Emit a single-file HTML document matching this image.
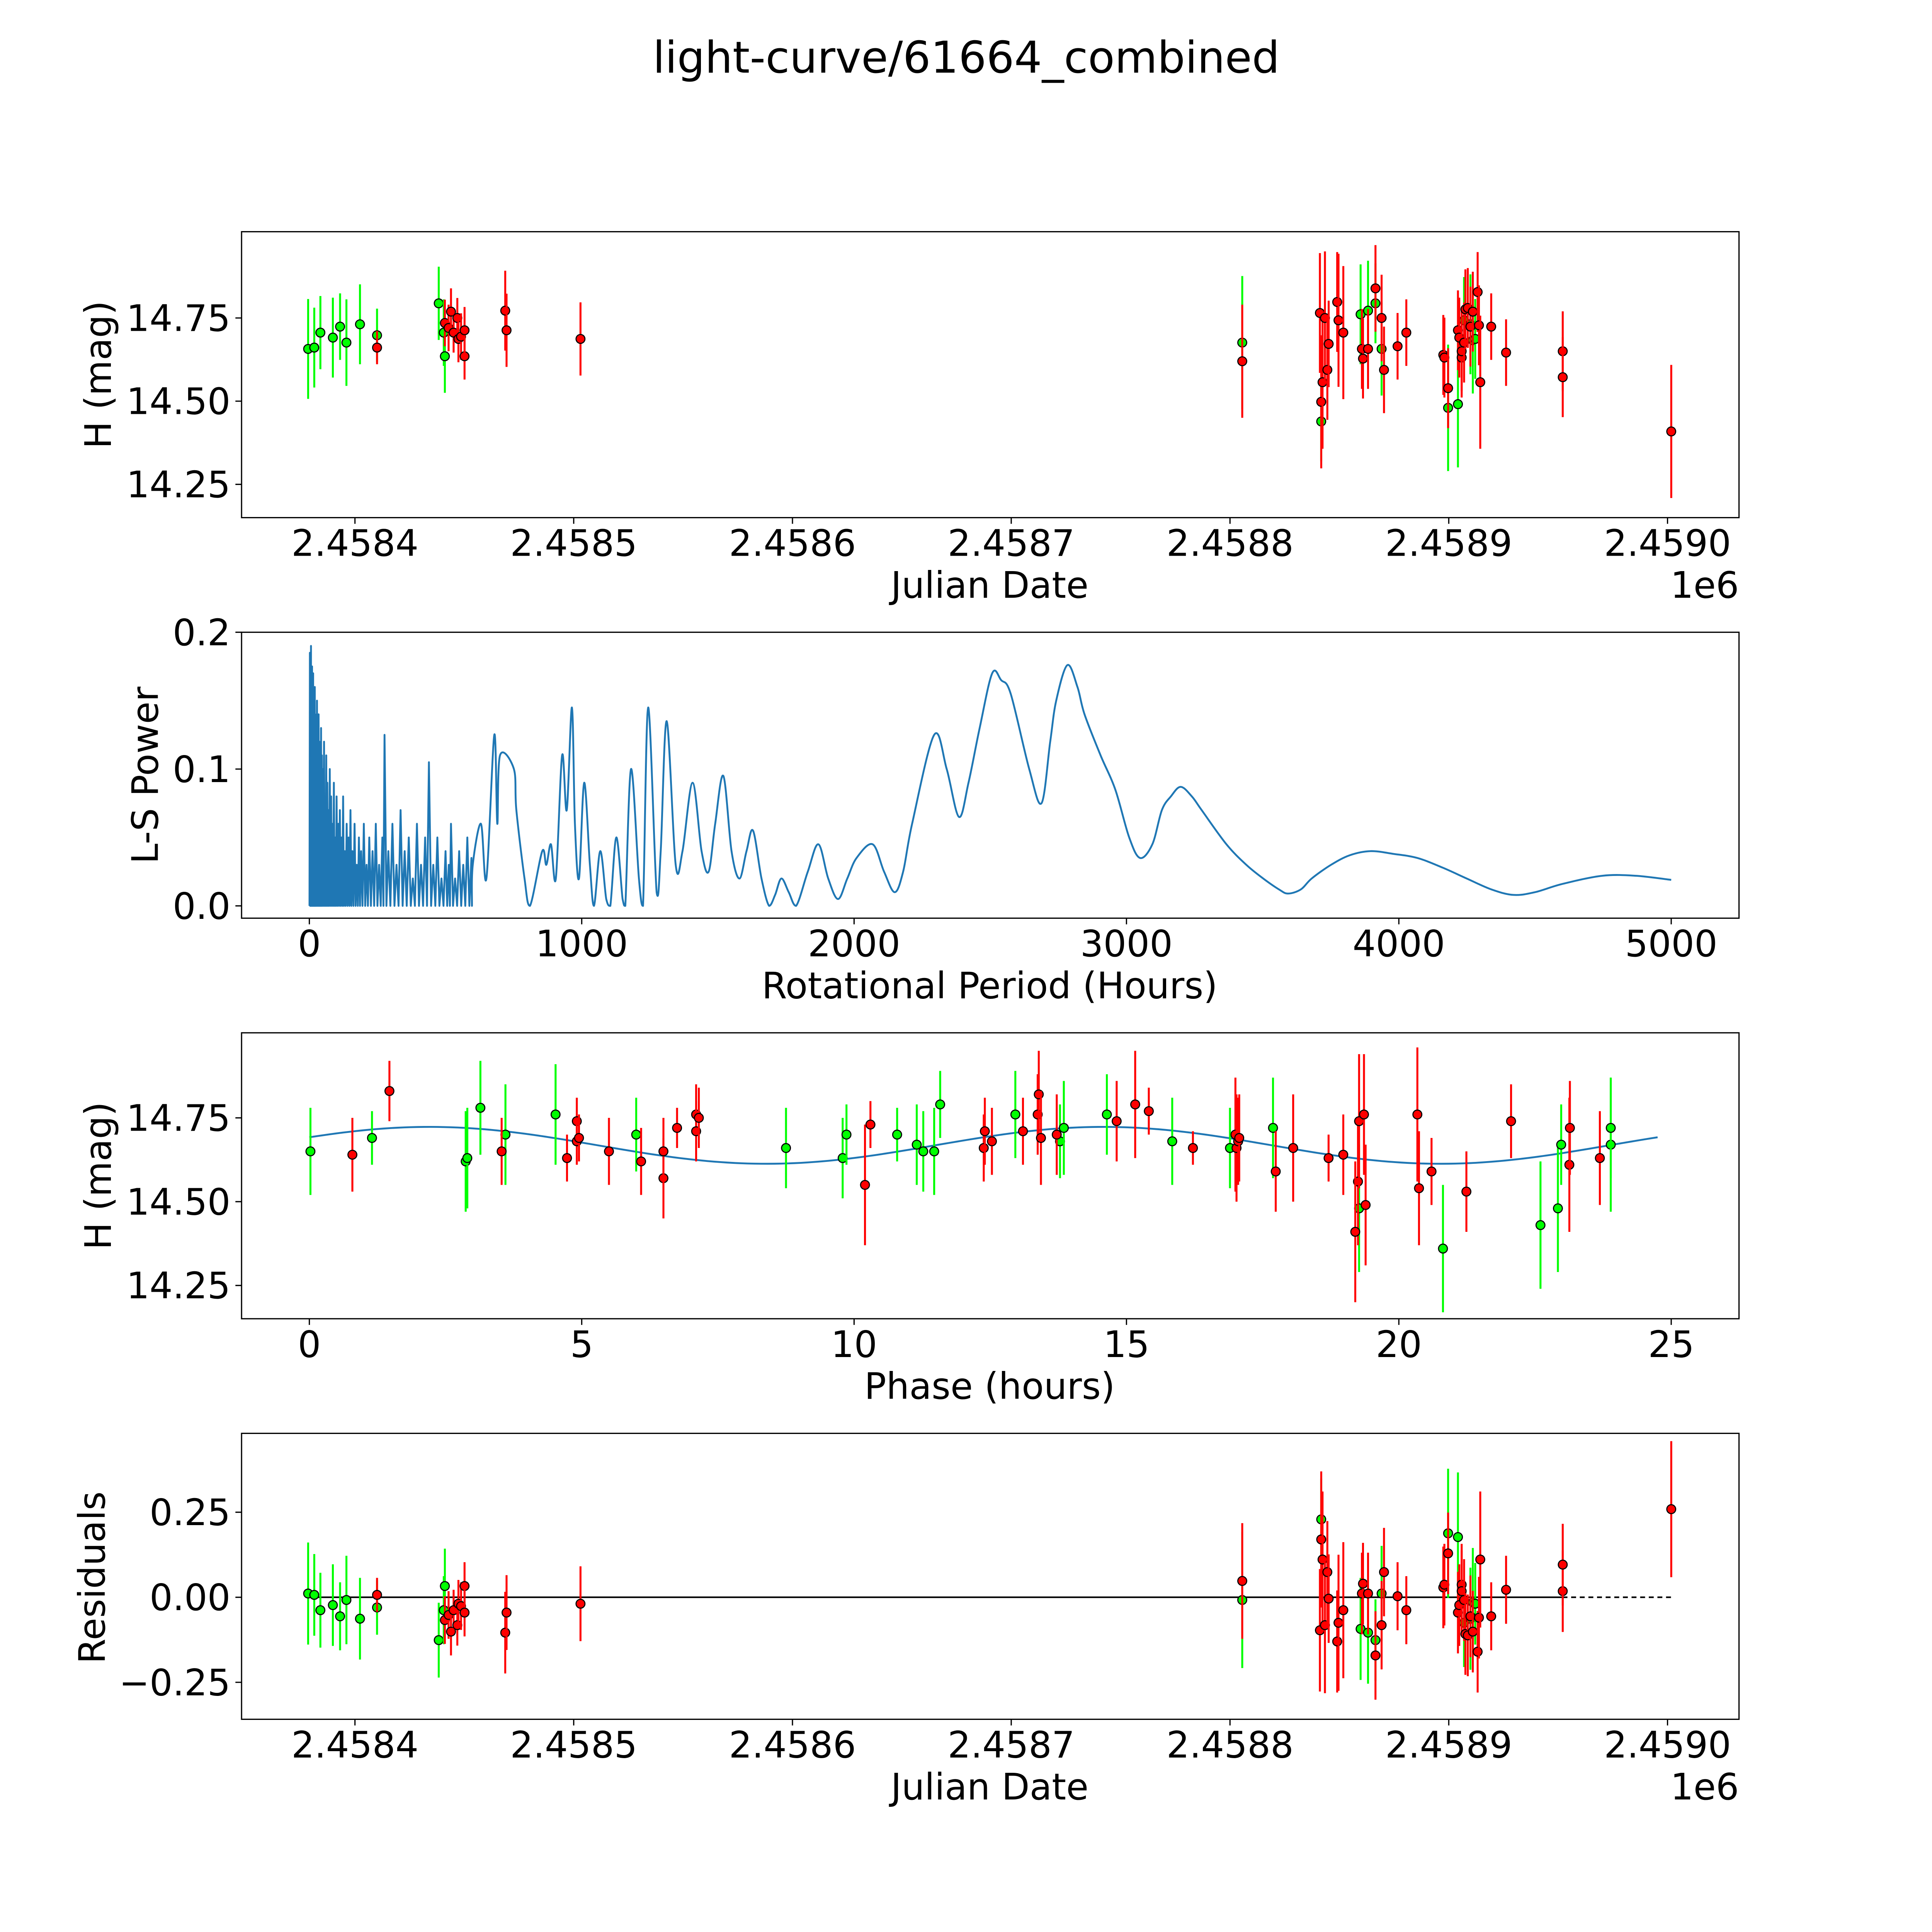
<!DOCTYPE html>
<html><head><meta charset="utf-8"><style>
html,body{margin:0;padding:0;background:#fff;width:5400px;height:5400px;overflow:hidden;}
svg{display:block;width:5400px;height:5400px;}
text{font-family:"DejaVu Sans","Liberation Sans",sans-serif;fill:#000;}
</style></head><body>
<svg id="fig" xmlns="http://www.w3.org/2000/svg" width="5400" height="5400" viewBox="0 0 1693 1693" preserveAspectRatio="xMinYMin meet">
<rect width="1693" height="1693" fill="#fff"/>
<text x="784" y="59" font-size="35.5" text-anchor="middle">light-curve/61664_combined</text>
<g id="g"></g>
</svg>
<script>
// ---- data: light curve (days since JD 2458400) ----
const greenT=[-21.4,-18.6,-15.8,-10.1,-6.8,-3.9,2.3,10.1,38.3,40.6,41.1,405.6,441.7,459.7,463.1,466.5,469.3,499.7,504.2,507.0,509.9,511.0,512.1];
const greenH=[14.657,14.661,14.706,14.691,14.724,14.676,14.731,14.698,14.794,14.706,14.635,14.676,14.439,14.761,14.772,14.794,14.657,14.480,14.491,14.743,14.731,14.683,14.687];
const greenE=[0.15,0.12,0.11,0.12,0.10,0.13,0.12,0.08,0.11,0.10,0.11,0.20,0.12,0.15,0.15,0.12,0.14,0.19,0.19,0.13,0.15,0.16,0.12];
const redT=[10.1,41.1,42.8,43.9,45.1,46.8,47.3,48.5,50.1,50.1,68.7,69.3,103.1,405.6,441.1,441.7,442.3,443.4,444.5,445.1,449.0,449.6,451.8,460.3,460.8,463.1,466.5,469.3,470.4,476.6,480.6,497.5,498.0,499.7,504.2,504.8,505.9,505.9,507.0,507.6,508.7,509.9,511.0,513.2,513.8,514.4,519.4,526.2,552.1,552.1,601.7];
const redH=[14.661,14.735,14.720,14.769,14.706,14.750,14.687,14.694,14.635,14.713,14.772,14.713,14.687,14.620,14.765,14.498,14.557,14.750,14.594,14.672,14.798,14.743,14.706,14.657,14.628,14.657,14.839,14.750,14.594,14.665,14.706,14.639,14.631,14.539,14.713,14.691,14.631,14.650,14.676,14.776,14.780,14.724,14.769,14.828,14.728,14.557,14.724,14.646,14.650,14.572,14.409];
const redE=[0.05,0.07,0.07,0.07,0.06,0.06,0.07,0.07,0.07,0.07,0.12,0.11,0.11,0.17,0.18,0.20,0.20,0.20,0.15,0.13,0.15,0.20,0.20,0.12,0.12,0.12,0.13,0.13,0.13,0.10,0.10,0.12,0.12,0.12,0.12,0.12,0.12,0.12,0.12,0.12,0.12,0.12,0.12,0.12,0.12,0.20,0.10,0.10,0.12,0.12,0.20];
const residBase=14.668;
// ---- data: periodogram ----
const noisePer=[2,4,6,8,10,12,14,16,18,20,22,25,28,31,34,37,40,43,46,50,54,58,62,66,70,75,80,85,90,95,100,106,112,118,124,130,137,144,151,158,166,174,182,190,200,210,220,232,244,256,268,276,290,305,320,335,350,365,380,395,410,425,439,455,470,485,500,512,520,535,550,565,580,595];
const noisePow=[0.185,0.12,0.19,0.16,0.175,0.13,0.17,0.15,0.11,0.16,0.14,0.13,0.15,0.10,0.14,0.12,0.09,0.13,0.11,0.10,0.12,0.08,0.11,0.09,0.07,0.10,0.08,0.06,0.09,0.05,0.08,0.06,0.07,0.05,0.08,0.04,0.06,0.05,0.07,0.04,0.06,0.03,0.05,0.04,0.06,0.03,0.05,0.04,0.06,0.03,0.05,0.125,0.04,0.06,0.03,0.07,0.04,0.05,0.02,0.06,0.03,0.05,0.105,0.03,0.05,0.02,0.04,0.03,0.06,0.02,0.04,0.03,0.05,0.035];
const smoothPer=[600,630,650,679,690,700,751,760,790,810,855,870,887,905,928,945,964,975,990,1009,1030,1045,1068,1090,1105,1127,1150,1160,1181,1210,1225,1244,1275,1290,1312,1345,1370,1407,1440,1466,1490,1520,1550,1579,1605,1629,1660,1688,1710,1733,1760,1787,1830,1869,1905,1941,1975,2009,2068,2110,2149,2180,2213,2294,2340,2385,2420,2461,2507,2540,2575,2643,2688,2720,2742,2783,2820,2846,2905,2959,3010,3050,3095,3130,3163,3199,3240,3276,3367,3440,3502,3560,3593,3640,3680,3751,3820,3896,3980,4068,4160,4249,4340,4421,4500,4600,4747,4870,5000];
const smoothPow=[0.03,0.06,0.02,0.125,0.06,0.11,0.10,0.07,0.02,0.0,0.04,0.03,0.045,0.02,0.11,0.07,0.145,0.06,0.02,0.09,0.03,0.0,0.04,0.005,0.0,0.05,0.005,0.0,0.10,0.02,0.0,0.145,0.01,0.04,0.135,0.03,0.04,0.09,0.04,0.025,0.06,0.095,0.04,0.02,0.04,0.055,0.02,0.0,0.008,0.02,0.01,0.0,0.025,0.045,0.02,0.005,0.02,0.035,0.045,0.025,0.01,0.025,0.06,0.125,0.10,0.065,0.09,0.13,0.17,0.165,0.155,0.10,0.075,0.12,0.15,0.176,0.16,0.14,0.11,0.085,0.05,0.035,0.045,0.07,0.08,0.087,0.08,0.07,0.045,0.03,0.02,0.012,0.009,0.012,0.02,0.03,0.037,0.04,0.038,0.035,0.028,0.02,0.012,0.008,0.01,0.016,0.022,0.022,0.019];
// ---- data: folded light curve ----
const phaseG=[0.02,1.15,2.87,2.9,3.14,3.6,4.52,6.0,8.75,9.79,9.86,10.79,11.15,11.27,11.47,11.58,12.96,13.78,13.85,14.64,15.84,16.9,17.69,19.27,20.81,22.6,22.92,22.98,23.89,23.89];
const phaseGH=[14.65,14.69,14.62,14.63,14.78,14.70,14.76,14.70,14.66,14.63,14.70,14.70,14.67,14.65,14.65,14.79,14.76,14.68,14.72,14.76,14.68,14.66,14.72,14.48,14.36,14.43,14.48,14.67,14.67,14.72];
const phaseGE=[0.13,0.08,0.15,0.15,0.14,0.15,0.15,0.11,0.12,0.12,0.09,0.08,0.12,0.12,0.13,0.10,0.13,0.11,0.14,0.12,0.13,0.12,0.15,0.19,0.19,0.19,0.19,0.12,0.20,0.15];
const phaseR=[0.79,1.47,3.53,4.73,4.91,4.91,4.95,5.5,6.09,6.5,6.5,6.75,7.1,7.1,7.15,10.2,10.3,12.38,12.4,12.53,13.1,13.37,13.39,13.43,13.72,14.82,15.16,15.41,16.22,17.0,17.02,17.05,17.07,17.74,18.06,18.71,18.98,19.25,19.27,19.2,19.39,19.36,20.34,20.37,20.6,21.24,22.06,23.13,23.69,23.14];
const phaseRH=[14.64,14.83,14.65,14.63,14.74,14.68,14.69,14.65,14.62,14.57,14.65,14.72,14.76,14.71,14.75,14.55,14.73,14.66,14.71,14.68,14.71,14.76,14.82,14.69,14.70,14.74,14.79,14.77,14.66,14.70,14.66,14.68,14.69,14.59,14.66,14.63,14.64,14.56,14.74,14.41,14.49,14.76,14.76,14.54,14.59,14.53,14.74,14.61,14.63,14.72];
const phaseRE=[0.11,0.09,0.1,0.07,0.07,0.07,0.07,0.1,0.1,0.12,0.1,0.06,0.09,0.09,0.09,0.18,0.07,0.1,0.1,0.1,0.1,0.12,0.13,0.14,0.12,0.12,0.16,0.07,0.05,0.17,0.16,0.13,0.13,0.12,0.16,0.07,0.12,0.19,0.2,0.21,0.18,0.18,0.2,0.17,0.1,0.12,0.11,0.2,0.14,0.14];
const modelMean=14.668, modelAmp=0.055, modelHalfPeriod=12.375, modelShift=-0.89, phaseMax=24.75;
</script>
<script>
const NS='http://www.w3.org/2000/svg';
const G=document.getElementById('g');
const FS=29.5;
function mk(tag,attrs,parent){const e=document.createElementNS(NS,tag);for(const k in attrs)e.setAttribute(k,attrs[k]);(parent||G).appendChild(e);return e;}
function txt(s,x,y,size,anchor,parent,rot){const t=mk('text',{x:x,y:y,'font-size':size,'text-anchor':anchor||'middle'},parent);if(rot)t.setAttribute('transform','rotate(-90 '+x+' '+y+')');t.textContent=s;return t;}
const X0=196,X1=1411;
const xJD=t=>288+t*1.775;
const yH1=h=>258+(14.75-h)*270;
const xPer=p=>251+p*0.221;
const yPow=v=>735-v*1110;
const xPh=p=>251+p*44.2;
const yH3=h=>907+(14.75-h)*272;
const yRes=r=>1296-r*276;

function frame(name){
  const g=mk('g',{});
  
  
  return g;
}
function box(g,y0,y1){mk('rect',{x:X0,y:y0,width:X1-X0,height:y1-y0,fill:'none',stroke:'#000','stroke-width':1},g);}
function xticks(g,y1,vals,labels,fx,name){
  vals.forEach((v,i)=>{const x=fx(v);mk('line',{x1:x,x2:x,y1:y1,y2:y1+5,stroke:'#000','stroke-width':1},g);
    const t=txt(labels[i],x,y1+31,FS,'middle',g);
    
    });
}
function yticks(g,vals,labels,fy,name){
  vals.forEach((v,i)=>{const y=fy(v);mk('line',{x1:X0-5,x2:X0,y1:y,y2:y,stroke:'#000','stroke-width':1},g);
    const t=txt(labels[i],X0-9,y+10.5,FS,'end',g);
    
    });
}
function errPoint(g,x,y,ylo,yhi,col,name){
  mk('line',{x1:x,x2:x,y1:ylo,y2:yhi,stroke:col,'stroke-width':1.6},g);
  const c=mk('circle',{cx:x,cy:y,r:3.6,fill:col,stroke:'#000','stroke-width':0.9},g);
  
  
}
const jdTicks=[0,100,200,300,400,500,600];
const jdLabels=['2.4584','2.4585','2.4586','2.4587','2.4588','2.4589','2.4590'];
const GREEN='#00ff00',RED='#ff0000';

// Panel 1
let g1=frame('light-curve-panel');
box(g1,188,420);
xticks(g1,420,jdTicks,jdLabels,xJD,'x');
yticks(g1,[14.25,14.5,14.75],['14.25','14.50','14.75'],yH1,'y');
greenT.forEach((t,i)=>errPoint(g1,xJD(t),yH1(greenH[i]),yH1(greenH[i]-greenE[i]),yH1(greenH[i]+greenE[i]),GREEN,'green-point'));
redT.forEach((t,i)=>errPoint(g1,xJD(t),yH1(redH[i]),yH1(redH[i]-redE[i]),yH1(redH[i]+redE[i]),RED,'red-point'));
let l=txt('Julian Date',803,485,FS,'middle',g1);
l=txt('1e6',1411,485,FS,'end',g1);
l=txt('H (mag)',90,304,FS,'middle',g1,true);

// Panel 2
let g2=frame('periodogram-panel');
box(g2,513,745);
xticks(g2,745,[0,1000,2000,3000,4000,5000],['0','1000','2000','3000','4000','5000'],xPer,'x');
yticks(g2,[0,0.1,0.2],['0.0','0.1','0.2'],yPow,'y');
let d='M'+xPer(0.5)+' '+yPow(0);
noisePer.forEach((p,i)=>{d+=' L'+xPer(p).toFixed(2)+' '+yPow(noisePow[i]).toFixed(2);
  const nx=i<noisePer.length-1?(p+noisePer[i+1])/2:p+2;d+=' L'+xPer(nx).toFixed(2)+' '+yPow(0).toFixed(2);});
const pts=[[xPer(noisePer[noisePer.length-1]+2),yPow(0)]];
smoothPer.forEach((p,i)=>pts.push([xPer(p),yPow(smoothPow[i])]));
for(let i=0;i<pts.length-1;i++){
  const p0=pts[Math.max(0,i-1)],p1=pts[i],p2=pts[i+1],p3=pts[Math.min(pts.length-1,i+2)];
  const c1x=p1[0]+(p2[0]-p0[0])/6,c1y=p1[1]+(p2[1]-p0[1])/6;
  const c2x=p2[0]-(p3[0]-p1[0])/6,c2y=p2[1]-(p3[1]-p1[1])/6;
  d+=' C'+c1x.toFixed(2)+' '+Math.min(735,c1y).toFixed(2)+' '+c2x.toFixed(2)+' '+Math.min(735,c2y).toFixed(2)+' '+p2[0].toFixed(2)+' '+p2[1].toFixed(2);
}
let pl=mk('path',{d:d,fill:'none',stroke:'#1f77b4','stroke-width':1.5,'stroke-linejoin':'round'},g2);

l=txt('Rotational Period (Hours)',803,810,FS,'middle',g2);
l=txt('L-S Power',128,629,FS,'middle',g2,true);

// Panel 3
let g3=frame('phase-panel');
box(g3,838,1070);
xticks(g3,1070,[0,5,10,15,20,25],['0','5','10','15','20','25'],xPh,'x');
yticks(g3,[14.25,14.5,14.75],['14.25','14.50','14.75'],yH3,'y');
let md='';
for(let k=0;k<=200;k++){const p=phaseMax*k/200;const h=modelMean+modelAmp*Math.sin(2*Math.PI*(p-modelShift)/modelHalfPeriod);md+=(k?' L':'M')+xPh(p).toFixed(2)+' '+yH3(h).toFixed(2);}
pl=mk('path',{d:md,fill:'none',stroke:'#1f77b4','stroke-width':1.5},g3);

phaseG.forEach((p,i)=>errPoint(g3,xPh(p),yH3(phaseGH[i]),yH3(phaseGH[i]-phaseGE[i]),yH3(phaseGH[i]+phaseGE[i]),GREEN,'green-point'));
phaseR.forEach((p,i)=>errPoint(g3,xPh(p),yH3(phaseRH[i]),yH3(phaseRH[i]-phaseRE[i]),yH3(phaseRH[i]+phaseRE[i]),RED,'red-point'));
l=txt('Phase (hours)',803,1135,FS,'middle',g3);
l=txt('H (mag)',90,954,FS,'middle',g3,true);

// Panel 4
let g4=frame('residuals-panel');
box(g4,1163,1395);
xticks(g4,1395,jdTicks,jdLabels,xJD,'x');
yticks(g4,[-0.25,0,0.25],['\u22120.25','0.00','0.25'],yRes,'y');
pl=mk('line',{x1:xJD(-21.4),x2:xJD(552),y1:yRes(0),y2:yRes(0),stroke:'#000','stroke-width':1.3},g4);

pl=mk('line',{x1:xJD(552),x2:xJD(601.7),y1:yRes(0),y2:yRes(0),stroke:'#000','stroke-width':1.3,'stroke-dasharray':'4 3'},g4);

greenT.forEach((t,i)=>{const r=residBase-greenH[i];errPoint(g4,xJD(t),yRes(r),yRes(r-greenE[i]),yRes(r+greenE[i]),GREEN,'green-residual');});
redT.forEach((t,i)=>{const r=residBase-redH[i];errPoint(g4,xJD(t),yRes(r),yRes(r-redE[i]),yRes(r+redE[i]),RED,'red-residual');});
l=txt('Julian Date',803,1460,FS,'middle',g4);
l=txt('1e6',1411,1460,FS,'end',g4);
l=txt('Residuals',85,1280,FS,'middle',g4,true);
</script>
</body></html>
